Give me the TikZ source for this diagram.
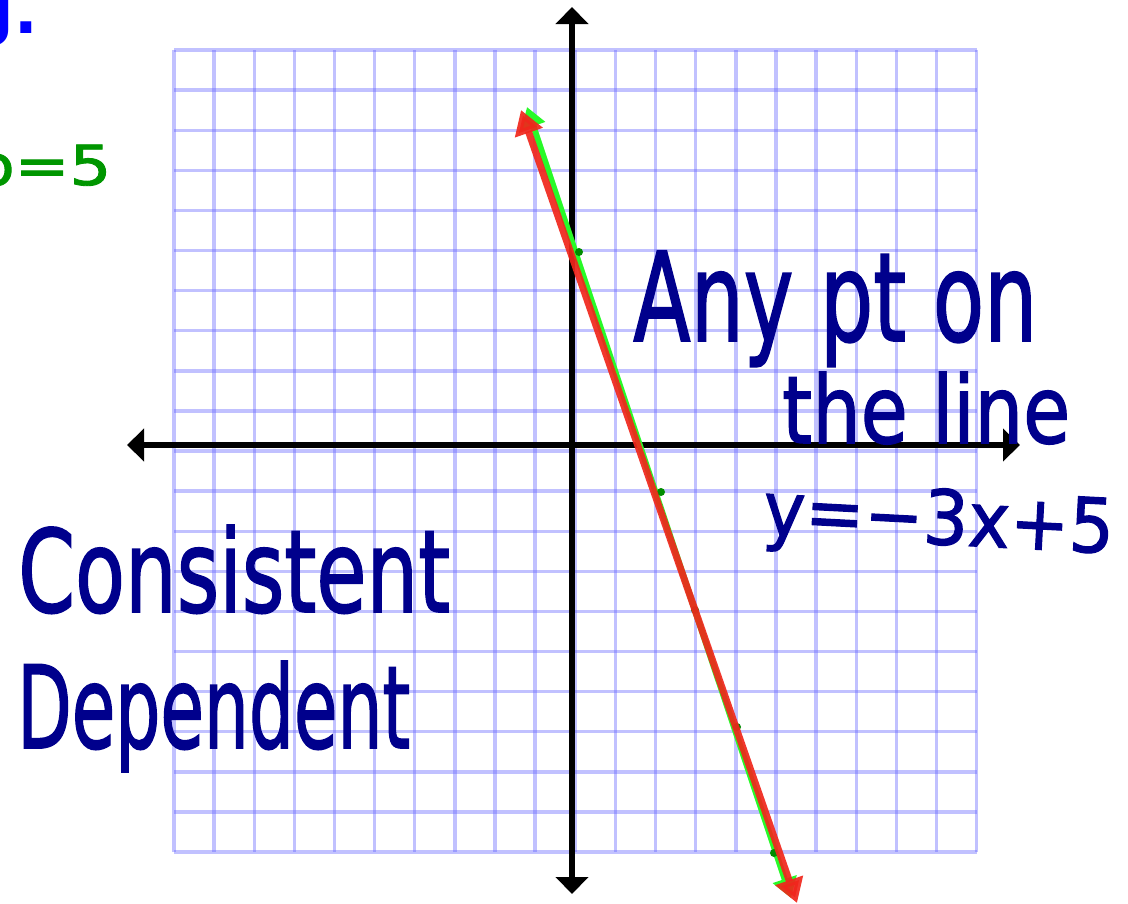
\documentclass[tikz,border=0pt]{standalone}
\usepackage{fontspec}
\setmainfont{DejaVu Sans}
\newfontfamily\handfont[FakeBold=1.6]{DejaVu Sans}
\usepackage{graphicx}
\usetikzlibrary{arrows.meta}
\definecolor{gridblue}{RGB}{100,100,255}
\definecolor{ink}{RGB}{0,0,140}
\definecolor{lgreen}{RGB}{40,250,40}
\definecolor{dgreen}{RGB}{0,140,0}
\definecolor{lred}{RGB}{240,38,28}
\definecolor{tblue}{RGB}{0,0,255}
\definecolor{hgreen}{RGB}{0,150,0}
\begin{document}
\begin{tikzpicture}[x=1pt,y=-1pt,
  gridline/.style={draw=gridblue,line width=3.4pt,opacity=0.4},
  axis/.style={draw=black,line width=6pt,
    {Triangle[length=17pt,width=32pt]}-{Triangle[length=17pt,width=32pt]}},
  greenline/.style={draw=lgreen,line width=6pt,
    {Triangle[length=20pt,width=24pt]}-{Triangle[length=20pt,width=24pt]}},
  redline/.style={draw=lred,line width=7pt,opacity=0.92,
    {Triangle[length=24pt,width=28pt]}-{Triangle[length=24pt,width=28pt]}},
  dot/.style={circle,fill=dgreen,inner sep=0pt,minimum size=8pt},
  hand/.style={text=ink,inner sep=0pt,anchor=base west,font=\handfont}]
\useasboundingbox (0,0) rectangle (1128,903);
\fill[white] (0,0) rectangle (1128,903);
% grid
\foreach \k in {0,...,20}{
  \draw[gridline] ({174+40.13*\k},50) -- ({174+40.13*\k},852);
  \draw[gridline] (174,{50+40.1*\k}) -- (977,{50+40.1*\k});
}
% axes
\coordinate (xl) at (127,445);
\coordinate (xr) at (1020,445);
\coordinate (yt) at (572,7);
\coordinate (yb) at (572,894);
\draw[axis] (xl) -- (xr);
\draw[axis] (yt) -- (yb);
% green line
\coordinate (gt) at (527,107);
\coordinate (gb) at (791,898);
\draw[greenline] (gt) -- (gb);
\node[dot] (d1) at (579,252) {};
\node[dot] (d2) at (661,492) {};
\node[dot] (d3) at (695,610) {};
\node[dot] (d4) at (737,727) {};
\node[dot] (d5) at (774,853) {};
% red line
\coordinate (rt) at (521,110);
\coordinate (rb) at (797,903);
\draw[redline] (rt) -- (rb);
% texts
\node[anchor=base east,inner sep=0pt,text=tblue,font=\bfseries\fontsize{62}{62}\selectfont] (gdot) at (38,33) {g.};
\node[inner sep=0pt,anchor=base west,text=hgreen,font=\handfont] (b5) at (-27,185) {\resizebox{138pt}{42pt}{b=5}};
\node[hand] (any) at (633,341) {\resizebox{404pt}{90pt}{Any pt on}};
\node[hand] (theline) at (782,443) {\resizebox{288pt}{71pt}{the line}};
\node[hand,rotate=-3] (eq) at (762,535) {\resizebox{351pt}{56pt}{y=−3x+5}};
\node[hand] (cons) at (18,612) {\resizebox{432pt}{87pt}{Consistent}};
\node[hand] (dep) at (17,748) {\resizebox{393pt}{87pt}{Dependent}};
\end{tikzpicture}
\end{document}
